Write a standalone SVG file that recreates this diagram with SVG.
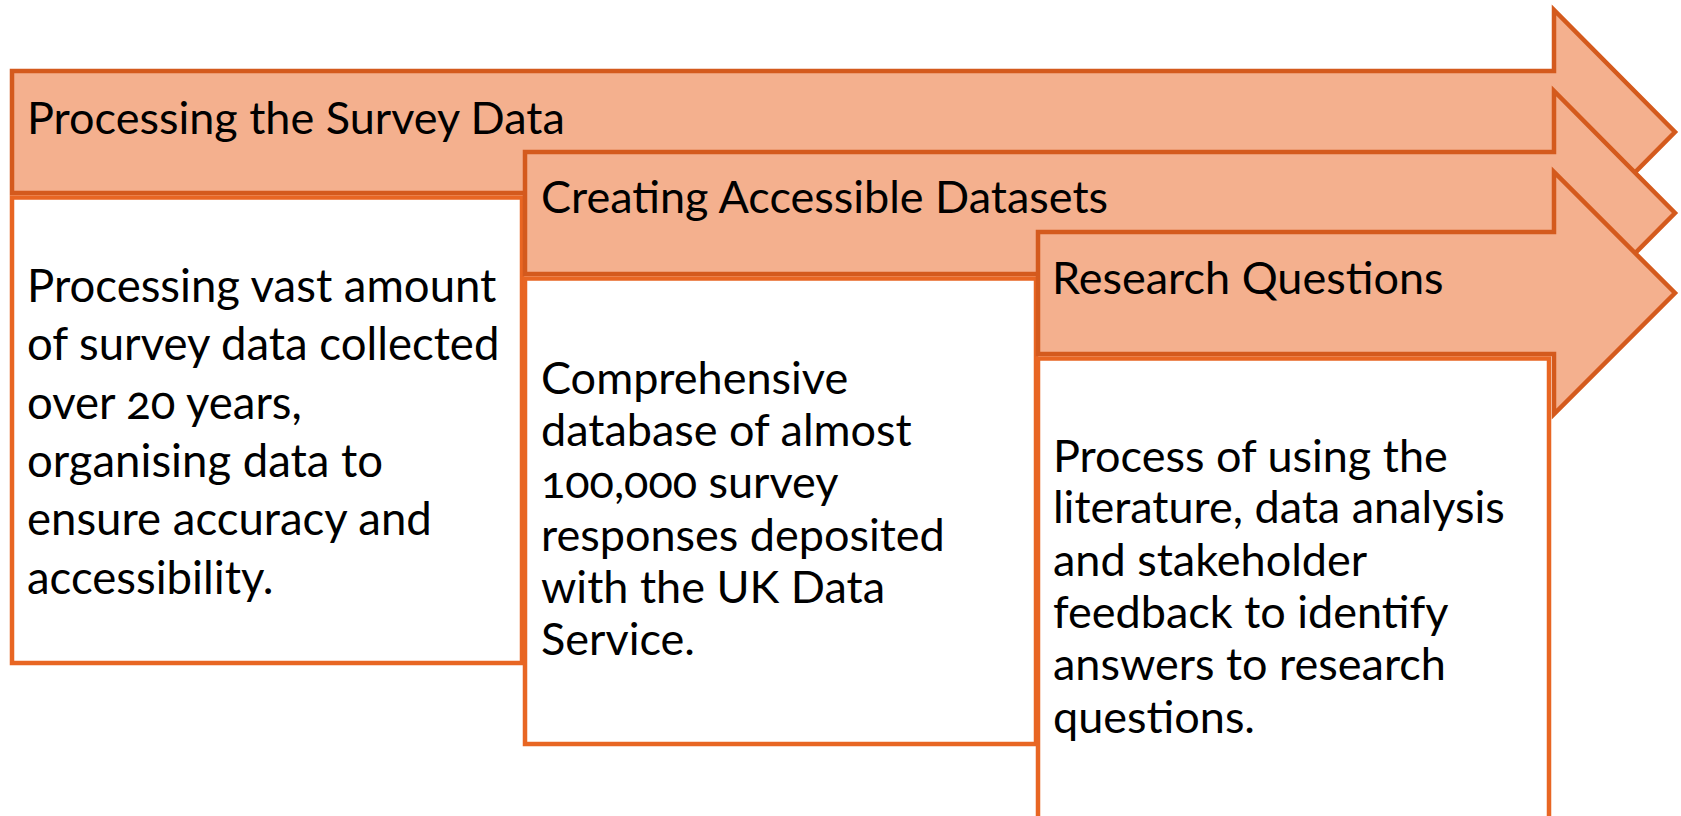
<svg xmlns="http://www.w3.org/2000/svg" width="1681" height="816" viewBox="0 0 1681 816">
  <style>
    .arrow { fill: #F4B08E; stroke: #D45A1D; stroke-width: 4.5; stroke-linejoin: miter; stroke-miterlimit: 10; }
    .box { fill: #FFFFFF; stroke: #E86623; stroke-width: 4.5; }
    .t { font-family: Lato, "Open Sans", "Liberation Sans", sans-serif; font-size: 45.5px; fill: #000000; font-variant-numeric: oldstyle-nums; }
    .h { font-size: 45px; }
    .s { font-size: 45px; }
  </style>
  <rect x="0" y="0" width="1681" height="816" fill="#FFFFFF"/>

  <g id="step1-header">
    <path class="arrow" d="M12,71 H1554 V10 L1675,132 L1554,254 V193 H12 Z"/>
    <text class="t h" x="27" y="134">Processing the Survey Data</text>
  </g>
  <g id="step1-body">
    <rect class="box" x="12" y="197.5" width="510" height="465.5"/>
    <text class="t" x="27" y="302">Processing vast amount</text>
    <text class="t" x="27" y="360">of survey data collected</text>
    <text class="t" x="27" y="419">over 20 years,</text>
    <text class="t" x="27" y="477">organising data to</text>
    <text class="t" x="27" y="535">ensure accuracy and</text>
    <text class="t" x="27" y="594">accessibility.</text>
  </g>

  <g id="step2-header">
    <path class="arrow" d="M525,152 H1554 V91 L1675,213 L1554,335 V274 H525 Z"/>
    <text class="t h" x="541" y="213">Creating Accessible Datasets</text>
  </g>
  <g id="step2-body">
    <rect class="box" x="525" y="278.5" width="511" height="465.5"/>
    <text class="t s" x="541" y="394">Comprehensive</text>
    <text class="t s" x="541" y="446">database of almost</text>
    <text class="t s" x="541" y="498">100,000 survey</text>
    <text class="t s" x="541" y="551">responses deposited</text>
    <text class="t s" x="541" y="603">with the UK Data</text>
    <text class="t s" x="541" y="655">Service.</text>
  </g>

  <g id="step3-header">
    <path class="arrow" d="M1038,232 H1554 V172 L1675,293 L1554,414 V354 H1038 Z"/>
    <text class="t h" x="1052" y="294">Research Questions</text>
  </g>
  <g id="step3-body">
    <rect class="box" x="1038" y="358.5" width="511" height="480"/>
    <text class="t s" x="1053" y="472">Process of using the</text>
    <text class="t s" x="1053" y="523">literature, data analysis</text>
    <text class="t s" x="1053" y="576">and stakeholder</text>
    <text class="t s" x="1053" y="628">feedback to identify</text>
    <text class="t s" x="1053" y="680">answers to research</text>
    <text class="t s" x="1053" y="733">questions.</text>
  </g>

  <g id="connectors"></g>
</svg>
